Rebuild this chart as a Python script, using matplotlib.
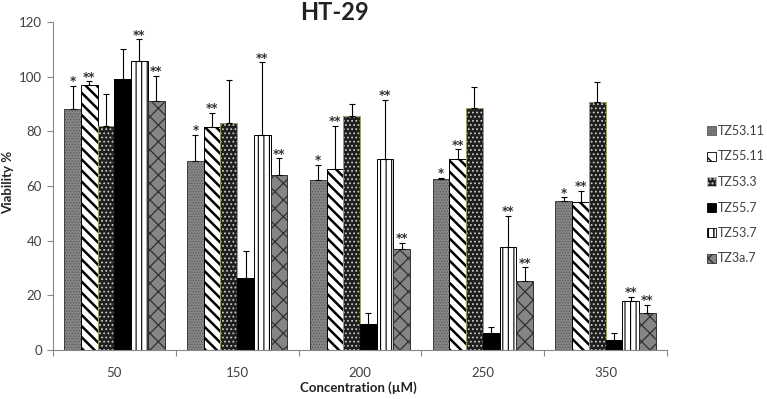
import numpy as np
import matplotlib
matplotlib.use('Agg')
import matplotlib.pyplot as plt
from matplotlib.patches import Patch

# Données
concentrations = ['50', '150', '200', '250', '350']
noms = ['TZ53.11', 'TZ55.11', 'TZ53.3', 'TZ55.7', 'TZ53.7', 'TZ3a.7']

tz53_11 = [88.1, 69.2, 62.1, 62.6, 54.6]
tz55_11 = [96.8, 81.7, 66.3, 69.9, 54.3]
tz53_3 = [82.0, 82.9, 85.5, 88.7, 90.6]
tz55_7 = [99.3, 26.5, 9.5, 6.3, 3.7]
tz53_7 = [105.6, 78.8, 69.8, 37.6, 18.0]
tz3a_7 = [91.1, 64.0, 37.0, 25.2, 13.4]

err53_11 = [8.5, 9.6, 5.7, 0.5, 1.2]
err55_11 = [1.5, 5.0, 15.7, 3.5, 3.9]
err53_3 = [11.5, 16.0, 4.4, 7.4, 7.6]
err55_7 = [10.7, 9.6, 3.9, 2.2, 2.6]
err53_7 = [8.0, 26.4, 21.7, 11.6, 1.3]
err3a_7 = [9.3, 6.1, 2.3, 5.0, 3.1]

etoiles = ['*', '**', '', '', '**', '**']

valeurs = [tz53_11, tz55_11, tz53_3, tz55_7, tz53_7, tz3a_7]
erreurs = [err53_11, err55_11, err53_3, err55_7, err53_7, err3a_7]

# Styles : (fond, hachure, couleur hachure, bord, épaisseur hachure)
styles = [
    ('#858585', '......', '#5a5a5a', '#404040', 0.6),
    ('white', '\\\\\\', 'black', 'black', 1.8),
    ('#1e1e1e', '....', '#c8c8c8', '#9aa060', 0.8),
    ('black', '', 'black', 'black', 1.0),
    ('white', '|||', 'black', 'black', 0.8),
    ('#858585', 'xx', '#303030', '#303030', 0.9),
]

plt.rcParams['font.family'] = ['Lato', 'DejaVu Sans']

fig = plt.figure(figsize=(7.67, 3.99), dpi=100)
ax = fig.add_axes([53/767, 1-350/399, 614/767, 328/399])

x = np.arange(len(concentrations)) + 0.5
larg = 0.136
handles = []
for k in range(6):
    pos = x + (k - 2.5) * larg
    fond, hach, chach, bord, hlw = styles[k]
    with plt.rc_context({'hatch.linewidth': hlw}):
        ax.bar(pos, valeurs[k], larg, color=fond, hatch=hach, edgecolor=chach, linewidth=0, zorder=2)
    ax.bar(pos, valeurs[k], larg, facecolor='none', edgecolor=bord, linewidth=0.7, zorder=3)
    basses = np.zeros(len(pos))
    ax.errorbar(pos, valeurs[k], yerr=[basses, erreurs[k]], fmt='none', ecolor='black',
                elinewidth=0.8, capsize=2.5, capthick=0.8, zorder=4)
    if etoiles[k]:
        for p, v, e in zip(pos, valeurs[k], erreurs[k]):
            ax.text(p, v + e - 0.8, etoiles[k], ha='center', va='bottom', fontsize=8.5,
                    family='DejaVu Sans', fontweight='bold', color='#333333')
    with plt.rc_context({'hatch.linewidth': min(hlw, 1.0)}):
        handles.append(Patch(facecolor=fond, hatch=hach.replace('\\\\\\', '\\\\'), edgecolor=chach, linewidth=0.6))

ax.set_xlim(0, 5)
ax.set_ylim(0, 120)
ax.set_yticks(range(0, 121, 20))
ax.set_xticks(range(0, 6))
ax.set_xticklabels([])
ax.set_xticks(x, minor=True)
ax.set_xticklabels(concentrations, minor=True)
ax.tick_params(axis='x', which='major', length=4, direction='out', color='#888888')
ax.tick_params(axis='x', which='minor', length=0, pad=12, labelsize=9.5, labelcolor='#404040')
ax.tick_params(axis='y', length=4, direction='out', color='#888888', labelsize=9.5, labelcolor='#404040', pad=4)
for s in ['top', 'right']:
    ax.spines[s].set_visible(False)
ax.spines['left'].set_color('#888888')
ax.spines['bottom'].set_color('#888888')

fig.text(334/767, 1-12/399, 'HT-29', ha='center', va='center', fontsize=17, fontweight='bold', color='#222222')
fig.text(358/767, 1-388/399, 'Concentration (µM)', ha='center', va='center', fontsize=9.5, fontweight='bold', color='#222222')
fig.text(8/767, 1-182/399, 'Viability %', ha='center', va='center', rotation=90, fontsize=9.5, fontweight='bold', color='#222222')

fig.legend(handles, noms, loc='upper left', bbox_to_anchor=(702/767, 1-120/399), frameon=False,
           fontsize=9, handlelength=0.75, handleheight=0.75, handletextpad=0.15, labelspacing=1.08,
           labelcolor='#404040', borderaxespad=0)

fig.savefig('out.png', dpi=100)
